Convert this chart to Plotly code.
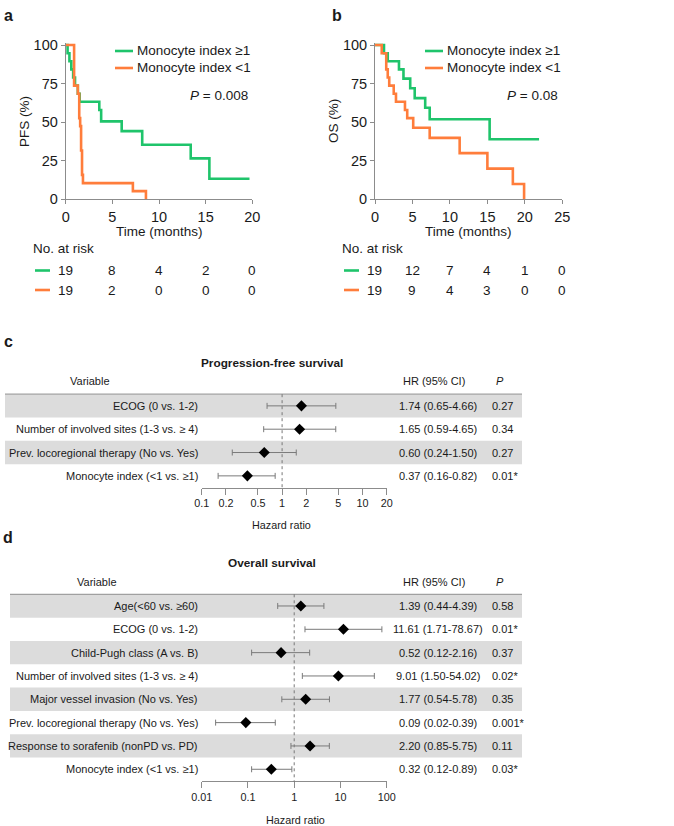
import plotly.graph_objects as go

W, H = 674, 826
def X(px): return px / W
def Y(py): return 1 - py / H

GREEN = "#1fc46b"
ORANGE = "#ff7d3b"
AX = "#8c8c8c"
TXT = "#1a1a1a"
FONT = "Liberation Sans, Arial, sans-serif"

# ---------------- Kaplan-Meier data ----------------
pfs_hi_t = [0, 0.2, 0.4, 0.6, 0.8, 1.0, 1.3, 1.5, 3.6, 3.8, 6.0, 8.2, 13.4, 15.4, 19.7]
pfs_hi_s = [100, 94.7, 89.5, 84.2, 78.9, 73.7, 68.4, 63.2, 57.9, 50.5, 44.2, 35.4, 26.5, 13.3, 13.3]
pfs_lo_t = [0, 0.9, 1.3, 1.45, 1.55, 1.65, 1.75, 1.85, 7.2, 8.6]
pfs_lo_s = [100, 73.7, 68.4, 52.6, 47.4, 31.6, 15.8, 10.5, 5.3, 0]

os_hi_t = [0, 1.2, 1.7, 3.2, 3.8, 4.7, 5.3, 6.7, 7.3, 15.3, 21.9]
os_hi_s = [100, 94.7, 89.5, 84.2, 78.2, 72.0, 65.6, 59.3, 51.9, 38.9, 38.9]
os_lo_t = [0, 0.9, 1.5, 1.7, 1.9, 2.5, 2.8, 4.0, 4.3, 5.1, 7.3, 11.3, 15.0, 18.4, 19.9]
os_lo_s = [100, 94.7, 84.2, 78.9, 73.7, 68.4, 63.2, 57.9, 52.6, 46.4, 39.8, 29.9, 19.9, 9.9, 0]

pfs_risk_times = [0, 5, 10, 15, 20]
pfs_risk_hi = [19, 8, 4, 2, 0]
pfs_risk_lo = [19, 2, 0, 0, 0]
os_risk_times = [0, 5, 10, 15, 20, 25]
os_risk_hi = [19, 12, 7, 4, 1, 0]
os_risk_lo = [19, 9, 4, 3, 0, 0]

legend_labels = ["Monocyte index ≥1", "Monocyte index <1"]

# ---------------- Forest data ----------------
pfs_vars = ["ECOG (0 vs. 1-2)", "Number of involved sites (1-3 vs. ≥ 4)",
            "Prev. locoregional therapy (No vs. Yes)", "Monocyte index (<1 vs. ≥1)"]
pfs_hr = [1.74, 1.65, 0.60, 0.37]
pfs_lo = [0.65, 0.59, 0.24, 0.16]
pfs_hi = [4.66, 4.65, 1.50, 0.82]
pfs_p = ["0.27", "0.34", "0.27", "0.01*"]
pfs_ticks = [0.1, 0.2, 0.5, 1, 2, 5, 10, 20]

os_vars = ["Age(<60 vs. ≥60)", "ECOG (0 vs. 1-2)", "Child-Pugh class (A vs. B)",
           "Number of involved sites (1-3 vs. ≥ 4)", "Major vessel invasion (No vs. Yes)",
           "Prev. locoregional therapy (No vs. Yes)", "Response to sorafenib (nonPD vs. PD)",
           "Monocyte index (<1 vs. ≥1)"]
os_hr = [1.39, 11.61, 0.52, 9.01, 1.77, 0.09, 2.20, 0.32]
os_lo = [0.44, 1.71, 0.12, 1.50, 0.54, 0.02, 0.85, 0.12]
os_hi = [4.39, 78.67, 2.16, 54.02, 5.78, 0.39, 5.75, 0.89]
os_p = ["0.58", "0.01*", "0.37", "0.02*", "0.35", "0.001*", "0.11", "0.03*"]
os_ticks = [0.01, 0.1, 1, 10, 100]

fig = go.Figure()
ann = []
shapes = []

def txt(x, y, s, size=13.5, xanchor="center", yanchor="middle", xref="paper", yref="paper",
        color=TXT, angle=0):
    ann.append(dict(x=x, y=y, text=s, xref=xref, yref=yref, xanchor=xanchor, yanchor=yanchor,
                    showarrow=False, textangle=angle, font=dict(family=FONT, size=size, color=color)))

# ---------------- KM panels ----------------
km_axis = dict(showline=True, linecolor=AX, linewidth=1, ticks="outside", ticklen=4,
               tickcolor=AX, showgrid=False, zeroline=False, automargin=False,
               tickfont=dict(family=FONT, size=14.5, color=TXT))

def km_panel(n, xdom, t_hi, s_hi, t_lo, s_lo, xmax, xticks, rt, rhi, rlo, ylab, ylab_x, ptxt,
             leg_x, pval_x, risk_x):
    key = "" if n == 1 else str(n)
    xa, ya = "x" + key, "y" + key
    fig.add_trace(go.Scatter(x=t_hi, y=s_hi, mode="lines", line=dict(color=GREEN, width=2.6, shape="hv"),
                             xaxis=xa, yaxis=ya, showlegend=False, hoverinfo="skip"))
    fig.add_trace(go.Scatter(x=t_lo, y=s_lo, mode="lines", line=dict(color=ORANGE, width=2.6, shape="hv"),
                             xaxis=xa, yaxis=ya, showlegend=False, hoverinfo="skip"))
    fig.layout["xaxis" + key] = dict(km_axis, domain=[X(xdom[0]), X(xdom[1])], range=[0, xmax],
                                     tickvals=xticks, anchor=ya)
    fig.layout["yaxis" + key] = dict(km_axis, domain=[Y(199.3), Y(42.7)], range=[0, 101.5],
                                     tickvals=[0, 25, 50, 75, 100], anchor=xa)
    txt(X(ylab_x), Y(121), ylab, angle=-90)
    txt(X((xdom[0] + xdom[1]) / 2), Y(231.5), "Time (months)")
    for i, (lab, col) in enumerate(zip(legend_labels, [GREEN, ORANGE])):
        yy = 51 + 17 * i
        shapes.append(dict(type="line", xref="paper", yref="paper", x0=X(leg_x), x1=X(leg_x + 18),
                           y0=Y(yy), y1=Y(yy), line=dict(color=col, width=2.6)))
        txt(X(leg_x + 20), Y(yy), lab, xanchor="left")
    txt(X(pval_x), Y(95.5), "<i>P</i> = " + ptxt, xanchor="right")
    txt(X(risk_x), Y(248), "No. at risk", xanchor="left")
    for i, (vals, col) in enumerate(zip([rhi, rlo], [GREEN, ORANGE])):
        yy = 270.5 + 19.5 * i
        shapes.append(dict(type="line", xref="paper", yref="paper", x0=X(risk_x + 4), x1=X(risk_x + 19),
                           y0=Y(yy), y1=Y(yy), line=dict(color=col, width=2.6)))
        for t, v in zip(rt, vals):
            txt(t, Y(yy), str(v), xref=xa)

km_panel(1, (65.7, 252.3), pfs_hi_t, pfs_hi_s, pfs_lo_t, pfs_lo_s, 20, [0, 5, 10, 15, 20],
         pfs_risk_times, pfs_risk_hi, pfs_risk_lo, "PFS (%)", 25, "0.008", 115, 250, 31)
km_panel(2, (375, 562.3), os_hi_t, os_hi_s, os_lo_t, os_lo_s, 25, [0, 5, 10, 15, 20, 25],
         os_risk_times, os_risk_hi, os_risk_lo, "OS (%)", 334, "0.08", 425, 560, 340)

# ---------------- Forest panels ----------------
FS = 11
def forest(n, vars_, hr, lo, hi, pv, ticks, xr, top, title, title_y, head_y, var_x, band_x0,
           hr_lbl_x, hr_lbl_y):
    xa, ya = "x" + str(n), "y" + str(n)
    rows = list(range(1, len(vars_) + 1))
    rh = 23.33
    bottom = top + rh * len(vars_)
    fig.add_trace(go.Scatter(
        x=hr, y=rows, mode="markers", xaxis=xa, yaxis=ya, showlegend=False, hoverinfo="skip",
        marker=dict(symbol="diamond", size=8.5, color="black"),
        error_x=dict(type="data", symmetric=False,
                     array=[h - m for h, m in zip(hi, hr)],
                     arrayminus=[m - l for m, l in zip(hr, lo)],
                     color="#7a7a7a", thickness=1, width=3)))
    fig.layout["xaxis" + str(n)] = dict(
        type="log", range=xr, domain=[X(201.7), X(386.7)], anchor=ya, automargin=False,
        showline=True, linecolor="#8c8c8c", ticks="outside", ticklen=6, tickcolor="#8c8c8c",
        tickvals=ticks, ticktext=[("%g" % t) for t in ticks], showgrid=False, zeroline=False,
        tickfont=dict(family=FONT, size=10.8, color=TXT))
    fig.layout["yaxis" + str(n)] = dict(
        range=[len(vars_) + 0.5, 0.5], domain=[Y(bottom), Y(top)], anchor=xa, automargin=False,
        visible=False, showgrid=False, zeroline=False)
    for r in rows:
        if r % 2 == 1:
            shapes.append(dict(type="rect", xref="paper", yref=ya, x0=X(band_x0), x1=X(522),
                               y0=r - 0.5, y1=r + 0.5, fillcolor="#dcdcdc", line=dict(width=0),
                               layer="below"))
    shapes.append(dict(type="line", xref="paper", yref="paper", x0=X(band_x0), x1=X(522),
                       y0=Y(top), y1=Y(top), line=dict(color="#a0a0a0", width=1.2)))
    shapes.append(dict(type="line", xref=xa, yref="paper", x0=1, x1=1, y0=Y(top), y1=Y(bottom + 1),
                       line=dict(color="#777777", width=1, dash="dot")))
    txt(X(272), Y(title_y), "<b>" + title + "</b>", size=11.8)
    txt(X(var_x), Y(head_y), "Variable", size=FS)
    txt(X(434), Y(head_y), "HR (95% CI)", size=FS)
    txt(X(500), Y(head_y), "<i>P</i>", size=FS)
    for r, v, h, l, u, p in zip(rows, vars_, hr, lo, hi, pv):
        txt(X(200), r, v, xanchor="right", yref=ya, size=FS)
        txt(X(437.5), r, "%.2f (%.2f-%.2f)" % (h, l, u), yref=ya, size=FS)
        txt(X(490.5), r, p, xanchor="left", yref=ya, size=FS)
    txt(X(hr_lbl_x), Y(hr_lbl_y), "Hazard ratio", size=10.8)

forest(3, pfs_vars, pfs_hr, pfs_lo, pfs_hi, pfs_p, pfs_ticks, [-1, 1.30103], 394.2,
       "Progression-free survival", 363, 380.7, 90, 5, 281.7, 525)
forest(4, os_vars, os_hr, os_lo, os_hi, os_p, os_ticks, [-2, 2], 594.3,
       "Overall survival", 563, 582.3, 97, 10, 295, 820)

for s, x, y in [("a", 8, 16), ("b", 337, 16), ("c", 8, 341.5), ("d", 8, 537)]:
    txt(X(x), Y(y), "<b>" + s + "</b>", size=16)

fig.update_layout(width=W, height=H, margin=dict(l=0, r=0, t=0, b=0, autoexpand=False),
                  paper_bgcolor="white", plot_bgcolor="rgba(0,0,0,0)", hovermode=False,
                  annotations=ann, shapes=shapes, showlegend=False)
fig.write_html("out.html", config={"displayModeBar": False, "staticPlot": True},
               post_script="document.body.style.margin='0px';document.body.style.overflow='hidden';")
